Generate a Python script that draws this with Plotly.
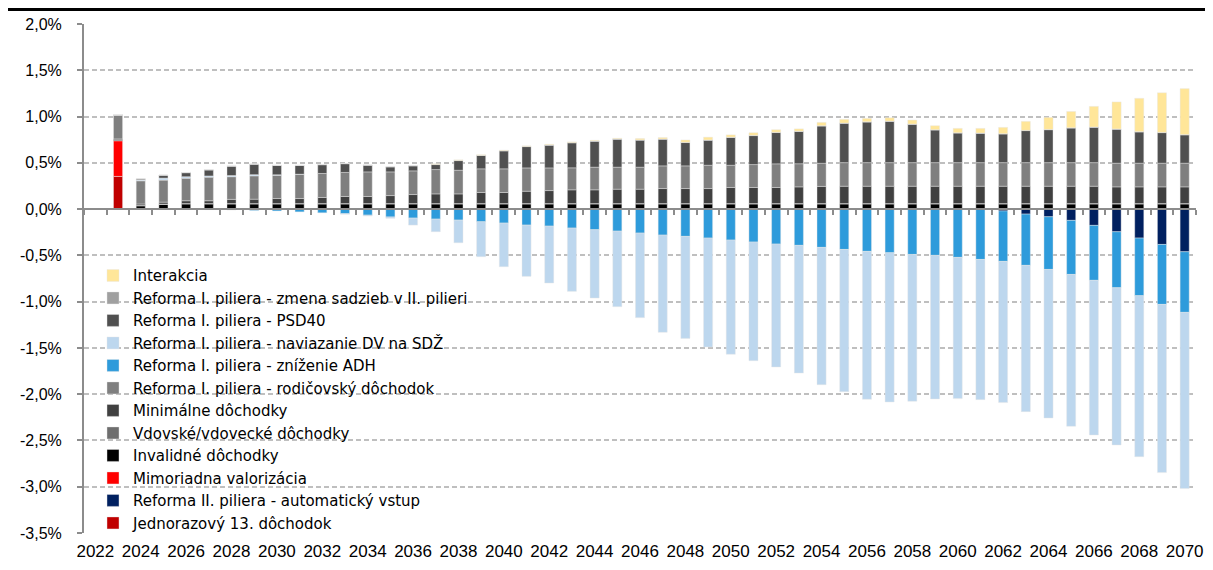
import plotly.graph_objects as go

YEARS = list(range(2022, 2071))
X_TICKS = [2022, 2024, 2026, 2028, 2030, 2032, 2034, 2036, 2038, 2040, 2042, 2044, 2046,
           2048, 2050, 2052, 2054, 2056, 2058, 2060, 2062, 2064, 2066, 2068, 2070]
Y_TICKS = [-3.5, -3.0, -2.5, -2.0, -1.5, -1.0, -0.5, 0.0, 0.5, 1.0, 1.5, 2.0]
Y_LABELS = ["-3,5%", "-3,0%", "-2,5%", "-2,0%", "-1,5%", "-1,0%", "-0,5%", "0,0%",
            "0,5%", "1,0%", "1,5%", "2,0%"]

# values in % of GDP, 2022 ... 2070
jednorazovy = [
    0, 0.353, 0, 0, 0, 0, 0, 0, 0, 0,
    0, 0, 0, 0, 0, 0, 0, 0, 0, 0,
    0, 0, 0, 0, 0, 0, 0, 0, 0, 0,
    0, 0, 0, 0, 0, 0, 0, 0, 0, 0,
    0, 0, 0, 0, 0, 0, 0, 0, 0,
]
auto_vstup = [
    0, 0, 0, 0, 0, 0, 0, 0, 0, 0,
    0, 0, 0, 0, 0, 0, 0, 0, 0, 0,
    0, 0, 0, 0, 0, 0, 0, 0, 0, 0,
    0, 0, 0, 0, 0, 0, 0, 0, 0, 0,
    -0.02, -0.054, -0.083, -0.122, -0.176, -0.245, -0.313, -0.382, -0.461,
]
mimoriadna = [
    0, 0.385, 0, 0, 0, 0, 0, 0, 0, 0,
    0, 0, 0, 0, 0, 0, 0, 0, 0, 0,
    0, 0, 0, 0, 0, 0, 0, 0, 0, 0,
    0, 0, 0, 0, 0, 0, 0, 0, 0, 0,
    0, 0, 0, 0, 0, 0, 0, 0, 0,
]
invalidne = [
    0, 0.01, 0.035, 0.05, 0.055, 0.055, 0.055, 0.055, 0.055, 0.055,
    0.055, 0.055, 0.055, 0.055, 0.055, 0.055, 0.055, 0.055, 0.055, 0.055,
    0.055, 0.055, 0.055, 0.055, 0.055, 0.055, 0.055, 0.055, 0.055, 0.055,
    0.055, 0.055, 0.055, 0.055, 0.055, 0.055, 0.055, 0.055, 0.055, 0.055,
    0.055, 0.055, 0.055, 0.055, 0.055, 0.055, 0.055, 0.055, 0.055,
]
vdovske = [
    0, 0, 0.005, 0.005, 0.005, 0.005, 0.005, 0.005, 0.005, 0.005,
    0.005, 0.005, 0.005, 0.005, 0.005, 0.005, 0.005, 0.005, 0.005, 0.005,
    0.005, 0.005, 0.005, 0.005, 0.005, 0.005, 0.005, 0.005, 0.005, 0.005,
    0.005, 0.005, 0.005, 0.005, 0.005, 0.005, 0.005, 0.005, 0.005, 0.005,
    0.005, 0.005, 0.005, 0.005, 0.005, 0.005, 0.005, 0.005, 0.005,
]
minimalne = [
    0, 0.01, 0.015, 0.02, 0.03, 0.03, 0.045, 0.047, 0.054, 0.054,
    0.065, 0.076, 0.076, 0.086, 0.097, 0.104, 0.104, 0.119, 0.119, 0.133,
    0.14, 0.148, 0.148, 0.155, 0.155, 0.162, 0.162, 0.162, 0.173, 0.173,
    0.173, 0.18, 0.185, 0.187, 0.187, 0.187, 0.187, 0.187, 0.187, 0.187,
    0.187, 0.187, 0.187, 0.187, 0.187, 0.18, 0.18, 0.18, 0.18,
]
rodicovsky = [
    0, 0.26, 0.252, 0.24, 0.245, 0.255, 0.245, 0.252, 0.252, 0.26,
    0.26, 0.26, 0.266, 0.256, 0.256, 0.263, 0.256, 0.256, 0.256, 0.252,
    0.245, 0.238, 0.245, 0.238, 0.238, 0.245, 0.245, 0.252, 0.241, 0.248,
    0.256, 0.25, 0.25, 0.255, 0.255, 0.255, 0.255, 0.255, 0.255, 0.255,
    0.255, 0.255, 0.255, 0.255, 0.255, 0.256, 0.256, 0.256, 0.256,
]
adh = [
    0, 0, 0, 0, 0, -0.005, -0.01, -0.015, -0.02, -0.03,
    -0.04, -0.05, -0.065, -0.085, -0.097, -0.108, -0.119, -0.137, -0.151, -0.173,
    -0.184, -0.205, -0.223, -0.238, -0.259, -0.281, -0.295, -0.313, -0.335, -0.356,
    -0.378, -0.392, -0.414, -0.436, -0.457, -0.472, -0.49, -0.5, -0.522, -0.544,
    -0.545, -0.554, -0.569, -0.584, -0.594, -0.605, -0.623, -0.648, -0.655,
]
naviazanie = [
    0, 0, 0.008, 0.02, 0.015, 0.013, 0.013, 0.013, 0.005, 0.003,
    0, -0.005, -0.01, -0.015, -0.076, -0.137, -0.245, -0.378, -0.472, -0.554,
    -0.615, -0.684, -0.738, -0.817, -0.914, -1.051, -1.102, -1.177, -1.234, -1.282,
    -1.328, -1.38, -1.483, -1.537, -1.598, -1.612, -1.587, -1.552, -1.526, -1.515,
    -1.526, -1.581, -1.605, -1.641, -1.671, -1.699, -1.739, -1.817, -1.904,
]
psd40 = [
    0, 0, 0.01, 0.03, 0.043, 0.065, 0.1, 0.112, 0.1, 0.094,
    0.094, 0.094, 0.072, 0.054, 0.054, 0.054, 0.104, 0.144, 0.194, 0.23,
    0.245, 0.27, 0.28, 0.302, 0.292, 0.288, 0.252, 0.27, 0.3, 0.313,
    0.338, 0.349, 0.403, 0.425, 0.439, 0.446, 0.414, 0.353, 0.32, 0.317,
    0.31, 0.346, 0.356, 0.374, 0.382, 0.367, 0.338, 0.33, 0.306,
]
zmena_sadzieb = [
    0, 0, 0.003, 0.003, 0.003, 0.003, 0.003, 0.003, 0.003, 0.003,
    0.003, 0.003, 0.003, 0.003, 0.003, 0.003, 0.003, 0.003, 0.003, 0.003,
    0.003, 0.003, 0.003, 0.003, 0.003, 0.003, 0.003, 0.003, 0.003, 0.003,
    0.003, 0.003, 0.003, 0.003, 0.003, 0.003, 0.003, 0.003, 0.003, 0.003,
    0.003, 0.003, 0.003, 0.003, 0.003, 0.003, 0.003, 0.003, 0.003,
]
interakcia = [
    0, 0, 0, 0, 0, 0, 0, 0, 0, 0,
    0, 0, 0, 0, 0, 0.005, 0.005, 0.005, 0.005, 0.005,
    0.007, 0.007, 0.007, 0.007, 0.015, 0.015, 0.025, 0.03, 0.025, 0.028,
    0.028, 0.025, 0.036, 0.04, 0.036, 0.036, 0.043, 0.043, 0.047, 0.05,
    0.068, 0.097, 0.13, 0.176, 0.223, 0.292, 0.36, 0.428, 0.497,
]

# stacking order, bottom first (legend is shown reversed)
SERIES = [
    ("Jednorazový 13. dôchodok", jednorazovy, "#C00000"),
    ("Reforma II. piliera - automatický vstup", auto_vstup, "#002060"),
    ("Mimoriadna valorizácia", mimoriadna, "#FF0000"),
    ("Invalidné dôchodky", invalidne, "#000000"),
    ("Vdovské/vdovecké dôchodky", vdovske, "#6E6E6E"),
    ("Minimálne dôchodky", minimalne, "#404040"),
    ("Reforma I. piliera - rodičovský dôchodok", rodicovsky, "#7F7F7F"),
    ("Reforma I. piliera - zníženie ADH", adh, "#2E9BDB"),
    ("Reforma I. piliera - naviazanie DV na SDŽ", naviazanie, "#BDD7EE"),
    ("Reforma I. piliera - PSD40", psd40, "#505050"),
    ("Reforma I. piliera - zmena sadzieb v II. pilieri", zmena_sadzieb, "#A0A0A0"),
    ("Interakcia", interakcia, "#FFE699"),
]

AXIS_GREY = "#8C8C8C"

fig = go.Figure()
for name, vals, color in SERIES:
    fig.add_trace(go.Bar(
        x=YEARS, y=vals, name=name,
        marker=dict(color=color, line=dict(color="rgba(230,230,230,0.7)", width=0.6)),
    ))

# helper trace so the zero-line axis with category ticks gets drawn
fig.add_trace(go.Scatter(x=[YEARS[0]], y=[0], xaxis="x2", mode="markers",
                         marker=dict(opacity=0), showlegend=False, hoverinfo="skip"))

y_min, y_max = Y_TICKS[0], Y_TICKS[-1]
fig.update_layout(
    # page body adds an 8px margin, so the figure is a bit smaller than the window
    width=1205, height=562,
    margin=dict(l=76, r=17, t=16, b=37, autoexpand=False),
    barmode="relative", bargap=0.6,
    paper_bgcolor="white", plot_bgcolor="white",
    font=dict(family="Liberation Sans, Arial, sans-serif", color="black"),
    xaxis=dict(
        range=[YEARS[0] - 0.5, YEARS[-1] + 0.5], tickvals=X_TICKS,
        ticks="", showline=False, showgrid=False, zeroline=False,
        tickfont=dict(size=17), ticklabelstandoff=6,
    ),
    xaxis2=dict(
        overlaying="x", anchor="free", position=-y_min / (y_max - y_min),
        range=[YEARS[0] - 0.5, YEARS[-1] + 0.5], tick0=YEARS[0] - 0.5, dtick=1,
        ticks="outside", ticklen=5, tickwidth=1.5, tickcolor=AXIS_GREY,
        showline=True, linecolor=AXIS_GREY, linewidth=2,
        showticklabels=False, showgrid=False, zeroline=False,
    ),
    yaxis=dict(
        range=[y_min, y_max], tickvals=Y_TICKS, ticktext=Y_LABELS,
        showgrid=True, gridcolor="#BFBFBF", gridwidth=1.5, griddash="5px,3px",
        showline=True, linecolor=AXIS_GREY, linewidth=2,
        ticks="outside", ticklen=5, tickwidth=1.5, tickcolor=AXIS_GREY,
        zeroline=False, tickfont=dict(size=16), ticklabelstandoff=12,
    ),
    legend=dict(
        x=0.0081, y=0.538, xanchor="left", yanchor="top",
        traceorder="reversed", bgcolor="rgba(0,0,0,0)",
        font=dict(size=15, family="DejaVu Sans, Liberation Sans, sans-serif"),
        itemclick=False,
    ),
    shapes=[dict(type="line", xref="paper", yref="paper", x0=-0.1, x1=1.1,
                 y0=1.0285, y1=1.0285, line=dict(color="black", width=3))],
)

fig.write_html("out.html")
